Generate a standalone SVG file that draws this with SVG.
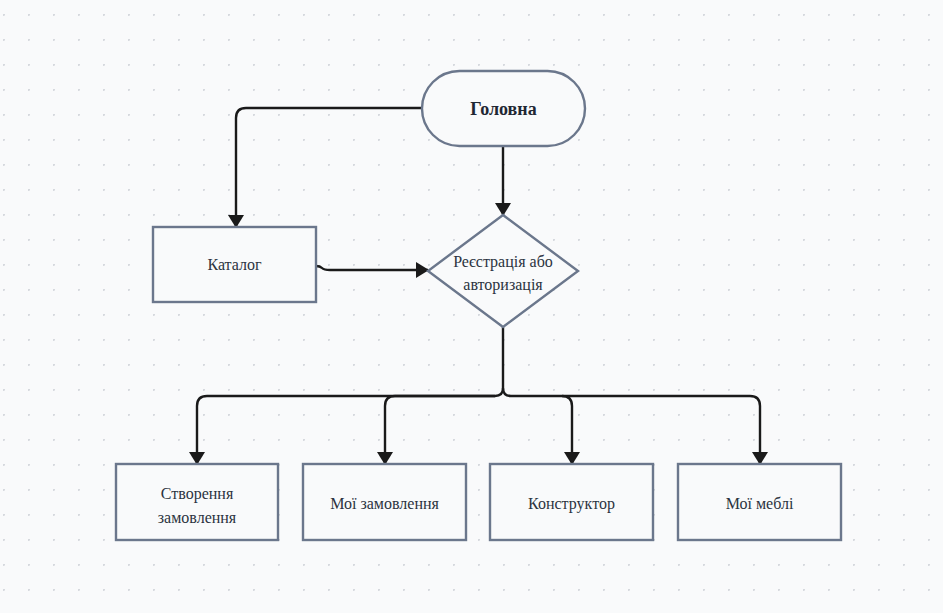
<svg xmlns="http://www.w3.org/2000/svg" width="943" height="613" viewBox="0 0 943 613">
  <style>
    .node { fill: #f9fafb; stroke: #6b778c; stroke-width: 2.4; }
    text { font-family: 'Liberation Serif', 'Times New Roman', 'DejaVu Serif', serif; }
    .label { font-size: 16px; fill: #2b3340; text-anchor: middle; }
    .title { font-size: 18px; font-weight: bold; fill: #1f2733; }
    .edge { fill: none; stroke: #1a1a1a; stroke-width: 2.4; }
  </style>
  <defs>
    <pattern id="grid" x="3" y="14" width="25" height="25" patternUnits="userSpaceOnUse">
      <circle cx="0.5" cy="0.5" r="1.5" fill="#d6d9de"/>
    </pattern>
    <marker id="arrow" viewBox="0 0 13 16" refX="12" refY="8" markerWidth="13" markerHeight="16" markerUnits="userSpaceOnUse" orient="auto">
      <path d="M0,0 L13,8 L0,16 Z" fill="#1a1a1a"/>
    </marker>
  </defs>

  <rect width="943" height="613" fill="#f9fafb"/>
  <rect width="943" height="613" fill="url(#grid)"/>

  <g id="connectors">
    <!-- Головна -> Каталог -->
    <path class="edge" d="M422,108 L246,108 Q236,108 236,118 L236,227" marker-end="url(#arrow)"/>
    <!-- Головна -> Реєстрація -->
    <path class="edge" d="M503,146 L503,215" marker-end="url(#arrow)"/>
    <!-- Каталог -> Реєстрація -->
    <path class="edge" d="M316,266 Q320,266 322,268 Q324,270 330,270 L428,270" marker-end="url(#arrow)"/>
    <!-- Реєстрація -> branches -->
    <path class="edge" d="M503,327 L503,388 Q503,396 495,396 L207,396 Q197,396 197,406 L197,464" marker-end="url(#arrow)"/>
    <path class="edge" d="M495,396 L395,396 Q385,396 385,406 L385,464" marker-end="url(#arrow)"/>
    <path class="edge" d="M503,388 Q503,396 511,396 L562,396 Q572,396 572,406 L572,464" marker-end="url(#arrow)"/>
    <path class="edge" d="M562,396 L750,396 Q760,396 760,406 L760,464" marker-end="url(#arrow)"/>
  </g>

  <g id="node-home">
    <rect class="node" x="422" y="71" width="163" height="75" rx="37.5" ry="37.5"/>
    <text class="label title" x="503.5" y="115">Головна</text>
  </g>

  <g id="node-catalog">
    <rect class="node" x="153" y="227" width="163" height="75"/>
    <text class="label" x="234.5" y="270">Каталог</text>
  </g>

  <g id="node-auth">
    <polygon class="node" points="503,215 578,271 503,327 428,271"/>
    <text class="label" x="503" y="267">Реєстрація або</text>
    <text class="label" x="503" y="290">авторизація</text>
  </g>

  <g id="node-create-order">
    <rect class="node" x="116" y="464" width="162" height="76"/>
    <text class="label" x="197" y="499">Створення</text>
    <text class="label" x="197" y="523">замовлення</text>
  </g>

  <g id="node-my-orders">
    <rect class="node" x="303" y="464" width="163" height="76"/>
    <text class="label" x="384.5" y="509">Мої замовлення</text>
  </g>

  <g id="node-constructor">
    <rect class="node" x="490" y="464" width="163" height="76"/>
    <text class="label" x="571.5" y="509">Конструктор</text>
  </g>

  <g id="node-my-furniture">
    <rect class="node" x="678" y="464" width="163" height="76"/>
    <text class="label" x="759.5" y="509">Мої меблі</text>
  </g>
</svg>
